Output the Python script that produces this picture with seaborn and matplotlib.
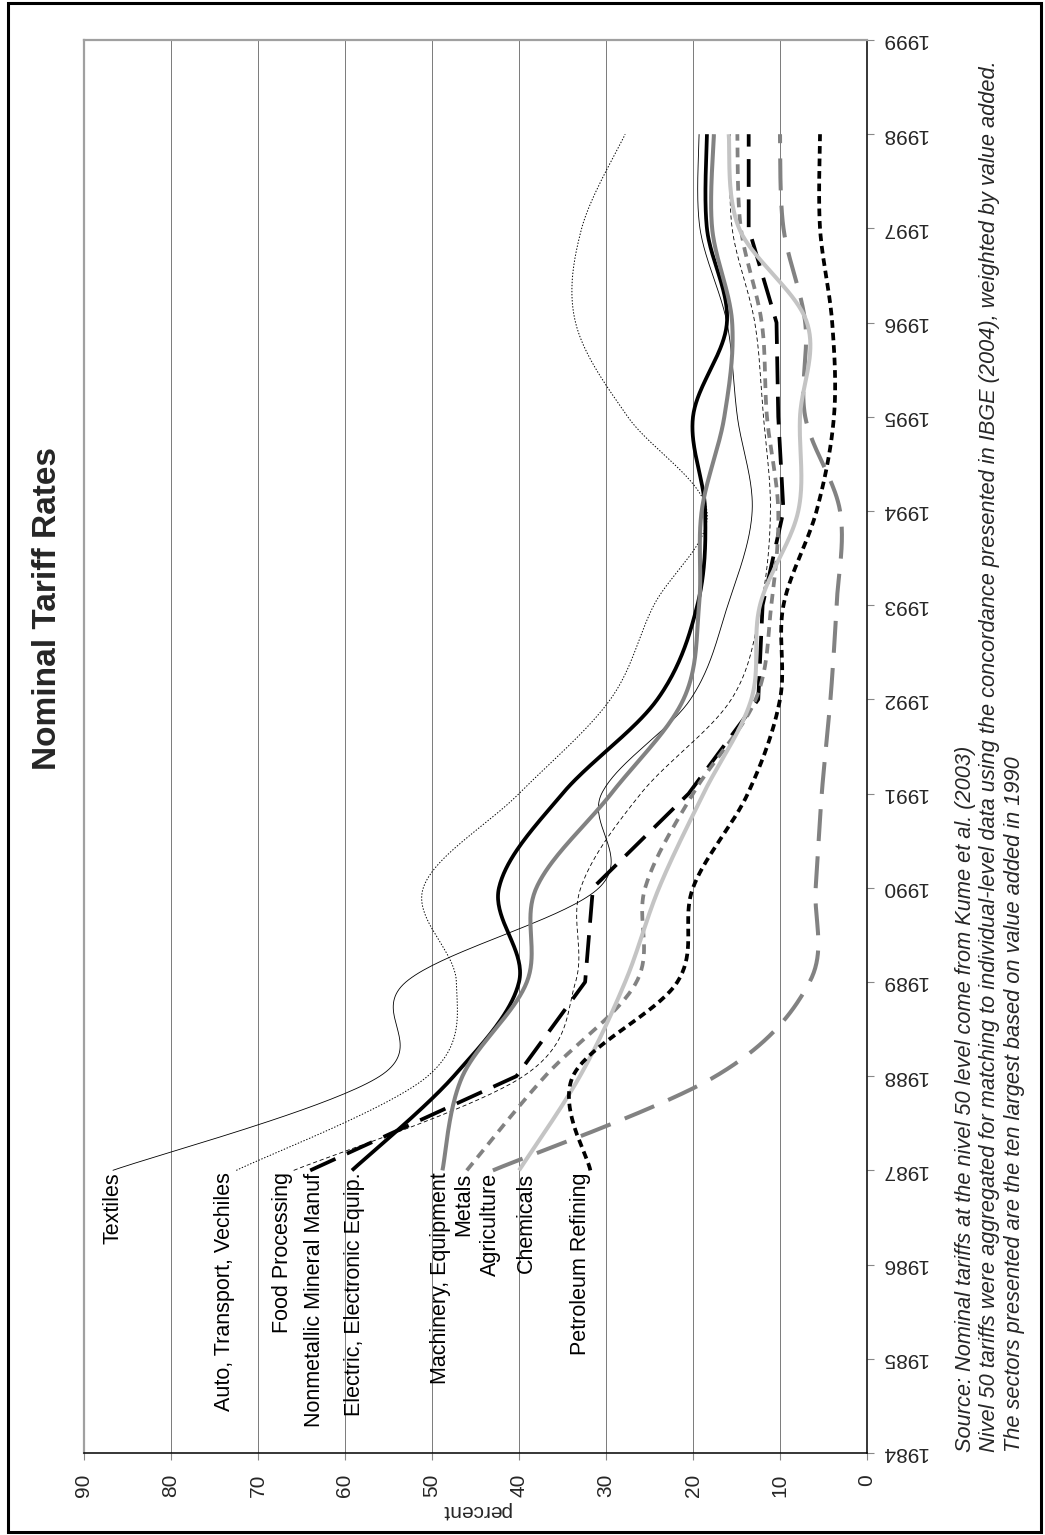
import numpy as np
import pandas as pd
import matplotlib
matplotlib.use("Agg")
import matplotlib.pyplot as plt
import seaborn as sns
from matplotlib.patches import Rectangle

# ---------------- data ----------------
years = [1987, 1988, 1989, 1990, 1991, 1992, 1993, 1994, 1995, 1996, 1997, 1998]
textiles = [86.7, 56.0, 53.0, 30.8, 30.5, 20.3, 16.0, 13.2, 14.9, 16.1, 19.2, 19.3]
auto = [72.5, 50.5, 47.2, 51.0, 40.0, 29.5, 24.5, 18.4, 27.5, 33.5, 32.8, 27.8]
food = [65.9, 39.5, 33.5, 32.9, 26.0, 15.6, 12.2, 11.1, 11.9, 12.9, 15.5, 15.7]
nonmetallic = [64.0, 40.3, 32.4, 31.5, 20.5, 12.5, 12.0, 9.6, 10.2, 10.4, 13.6, 13.6]
electric = [59.2, 47.5, 40.0, 42.3, 35.0, 24.1, 19.5, 18.6, 20.0, 16.1, 18.4, 18.4]
machinery = [48.8, 46.5, 39.1, 38.0, 29.4, 21.1, 19.3, 19.0, 16.4, 15.5, 17.8, 17.6]
metals = [46.0, 37.0, 26.5, 25.5, 20.0, 12.8, 11.0, 10.2, 11.5, 12.1, 14.5, 14.9]
agriculture = [43.0, 17.4, 6.6, 5.9, 5.2, 4.2, 3.5, 3.1, 7.1, 7.1, 9.6, 10.0]
chemicals = [40.0, 33.0, 27.8, 23.9, 18.8, 13.3, 12.3, 7.9, 7.7, 6.9, 14.7, 15.9]
petroleum = [31.8, 33.8, 21.8, 20.0, 13.7, 10.0, 9.6, 5.8, 3.8, 4.0, 5.4, 5.4]

sector_names = ["Textiles", "Auto, Transport, Vechiles", "Food Processing",
                "Nonmetallic Mineral Manuf", "Electric, Electronic Equip.",
                "Machinery, Equipment", "Metals", "Agriculture", "Chemicals",
                "Petroleum Refining"]
year_ticks = list(range(1984, 2000))
pct_ticks = list(range(0, 100, 10))

title = "Nominal Tariff Rates"
source_note = ("Source: Nominal tariffs at the nivel 50 level come from Kume et al. (2003)\n"
               "Nivel 50 tariffs were aggregated for matching to individual-level data using the "
               "concordance presented in IBGE (2004), weighted by value added.\n"
               "The sectors presented are the ten largest based on value added in 1990")

series = [textiles, auto, food, nonmetallic, electric, machinery, metals,
          agriculture, chemicals, petroleum]

# styles: (color, linewidth pt, dash pattern or None, smoothed)
styles = [
    ("black", 0.6, None, True),
    ("black", 0.7, (0, (1.0, 1.2)), True),
    ("black", 0.6, (0, (3.0, 2.0)), True),
    ("black", 2.7, (0, (20, 9)), False),
    ("black", 2.7, None, True),
    ("#828282", 2.9, None, True),
    ("#828282", 2.7, (0, (7, 5)), True),
    ("#828282", 2.9, (0, (23, 11)), True),
    ("#c4c4c4", 2.9, None, True),
    ("black", 2.7, (0, (5.5, 3.5)), True),
]
# horizontal nudges of the sector labels (points, layout only)
label_nudge = [0, -8.5, -8, 3, 2, -1.5, -2, -1.5, 5, -7]


def excel_smooth(xs, ys, n=40):
    P = np.column_stack([xs, ys]).astype(float)
    P = np.vstack([P[0], P, P[-1]])
    out = []
    for i in range(1, len(P) - 2):
        p0, p1, p2, p3 = P[i - 1], P[i], P[i + 1], P[i + 2]
        c1 = p1 + (p2 - p0) / 6.0
        c2 = p2 - (p3 - p1) / 6.0
        t = np.linspace(0, 1, n, endpoint=False)[:, None]
        out.append((1 - t) ** 3 * p1 + 3 * (1 - t) ** 2 * t * c1
                   + 3 * (1 - t) * t ** 2 * c2 + t ** 3 * p2)
    out.append(P[-2][None, :])
    return np.vstack(out)


sns.set_theme(style="white")
plt.rcParams["font.family"] = ["Liberation Sans", "DejaVu Sans"]
plt.rcParams["lines.scale_dashes"] = False

W, H = 1045, 1535
fig = plt.figure(figsize=(W / 100, H / 100), dpi=100)
fig.patch.set_facecolor("white")

ax_l, ax_r, ax_t, ax_b = 84, 867, 40, 1453
ax = fig.add_axes([ax_l / W, (H - ax_b) / H, (ax_r - ax_l) / W, (ax_b - ax_t) / H])

for vals, name, (col, lw, dash, smooth), nud in zip(series, sector_names, styles, label_nudge):
    if smooth:
        pts = excel_smooth(years, vals)
        yy, xx = pts[:, 0], pts[:, 1]
    else:
        yy, xx = np.array(years, float), np.array(vals, float)
    df = pd.DataFrame({"pct": xx, "year": yy})
    sns.lineplot(data=df, x="pct", y="year", sort=False, estimator=None,
                 color=col, linewidth=lw, ax=ax)
    ln = ax.lines[-1]
    ln.set_solid_capstyle("butt")
    ln.set_dash_capstyle("butt")
    if dash is not None:
        ln.set_linestyle(dash)
    ax.annotate(name, xy=(vals[0], years[0]), xytext=(nud, -1.5),
                textcoords="offset points", rotation=90, ha="center", va="top",
                fontsize=15.5, color="black")

ax.set_xlim(90, 0)
ax.set_ylim(1984, 1999)
ax.set_xticks(pct_ticks)
ax.set_xticklabels([str(v) for v in pct_ticks], rotation=90)
ax.set_yticks(year_ticks)
ax.set_yticklabels([str(v) for v in year_ticks], rotation=180)
ax.yaxis.tick_right()
ax.yaxis.set_label_position("right")
ax.tick_params(axis="x", direction="out", length=5, width=0.8, color="#888888",
               labelsize=15, pad=10, bottom=True)
ax.tick_params(axis="y", direction="out", length=5, width=0.8, color="#888888",
               labelsize=15, pad=5, right=True, left=False)
for lab in ax.get_yticklabels():
    lab.set_va("center")
ax.grid(False)
for v in pct_ticks[1:-1]:
    ax.axvline(v, color="#7a7a7a", lw=0.7, zorder=0)
ax.set_xlabel("percent", rotation=180, fontsize=15, labelpad=3)
ax.set_ylabel("")

for side in ["left", "top"]:
    ax.spines[side].set_color("#a0a0a0")
    ax.spines[side].set_linewidth(1.6)
for side in ["right", "bottom"]:
    ax.spines[side].set_color("black")
    ax.spines[side].set_linewidth(1.1)

fig.text(48 / W, 1 - 608 / H, title, rotation=90, fontsize=24, fontweight="bold",
         ha="center", va="center")
fig.text(990 / W, 1 - 1452 / H, source_note, rotation=90, fontsize=15.7,
         style="italic", ha="center", va="bottom", linespacing=1.2,
         multialignment="left")

fig.patches.append(Rectangle((8 / W, 3 / H), (1041 - 8) / W, (1532 - 3) / H,
                             transform=fig.transFigure, fill=False,
                             edgecolor="black", linewidth=2.2))

fig.savefig("out.png", dpi=100)
